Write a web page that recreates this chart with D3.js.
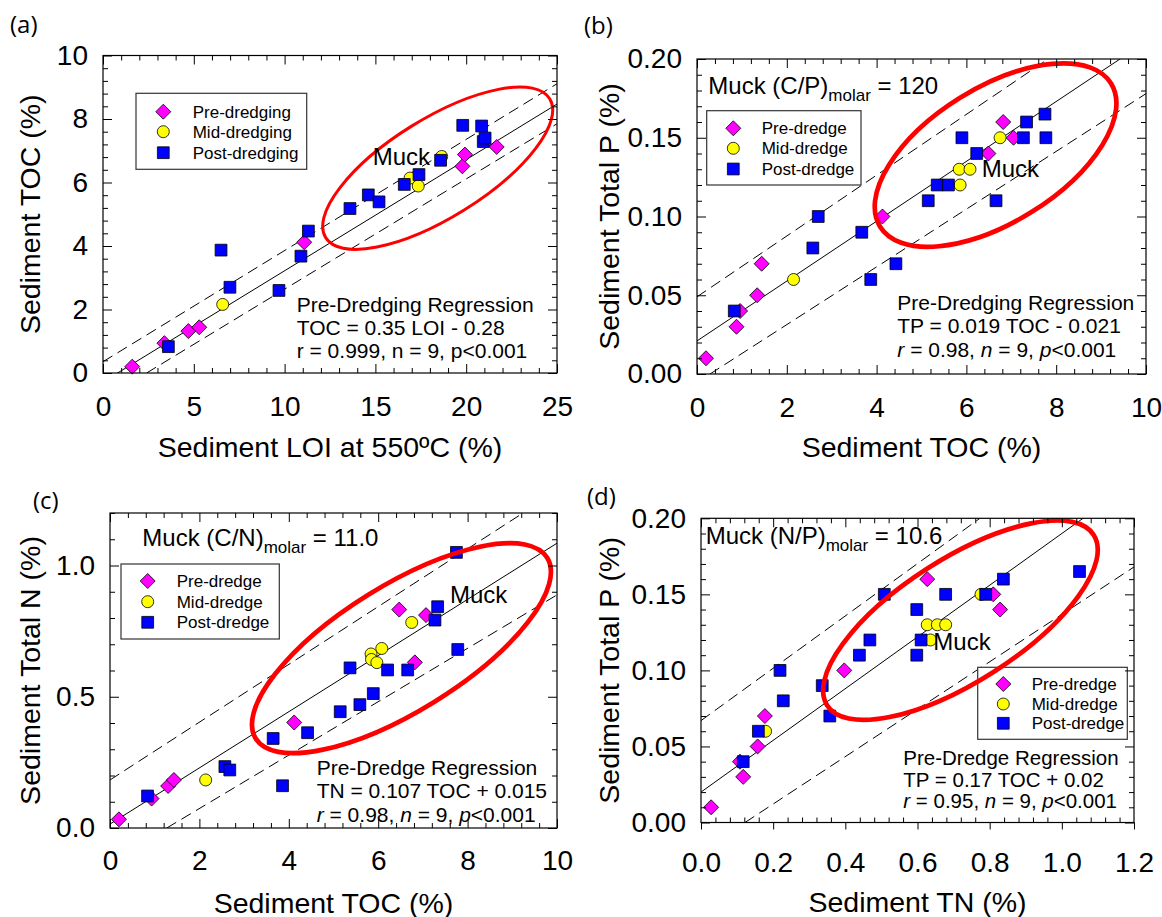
<!DOCTYPE html>
<html>
<head>
<meta charset="utf-8">
<script src="https://cdn.jsdelivr.net/npm/d3@7"></script>
<style>
  body { margin: 0; background: #fff; }
  svg { display: block; }
  text { font-family: "Liberation Sans", Arial, sans-serif; fill: #000; }
  text.tag { font-family: "Open Sans", "Noto Sans", sans-serif; }
</style>
</head>
<body>
<svg id="fig" width="1162" height="917"></svg>
<script>
// ---------------- data ----------------
// (a) sediment LOI at 550 °C (%) vs sediment TOC (%)
const aPre  = [[1.61,0.20],[3.38,0.94],[4.70,1.32],[5.30,1.44],[11.08,4.12],[19.79,6.51],[19.93,6.88],[21.68,7.12]];
const aMid  = [[6.59,2.16],[16.91,6.14],[17.36,5.89],[18.65,6.82]];
const aPost = [[3.60,0.83],[6.50,3.87],[6.99,2.70],[9.69,2.60],[10.90,3.68],[11.31,4.47],[13.60,5.18],[14.61,5.61],
               [15.20,5.39],[16.59,5.94],[17.40,6.25],[18.59,6.70],[19.81,7.80],[20.85,7.78],[20.94,7.29],[21.04,7.40]];
const aFit   = {slope: 0.35, intercept: -0.28};
const aUpper = [[0,0.355],[25,9.11]];
const aLower = [[2.4,0],[25,7.85]];
const aEllipse = {cx: 18.43, cy: 6.45};

// (b) sediment TOC (%) vs sediment total P (%)
const bPre  = [[0.20,0.010],[0.88,0.030],[0.96,0.040],[1.34,0.050],[1.44,0.070],[4.13,0.100],[6.49,0.140],[6.82,0.160],[7.05,0.150]];
const bMid  = [[2.15,0.060],[5.84,0.130],[6.08,0.130],[5.86,0.120],[6.75,0.150]];
const bPost = [[0.83,0.040],[2.70,0.100],[2.58,0.080],[3.67,0.090],[3.87,0.060],[4.43,0.070],[5.15,0.110],[5.35,0.120],
               [5.60,0.120],[5.90,0.150],[6.23,0.140],[6.66,0.110],[7.27,0.150],[7.34,0.160],[7.75,0.165],[7.77,0.150]];
const bFit   = {slope: 0.019, intercept: 0.021};
const bUpper = [[0,0.049],[7.82,0.200]];
const bLower = [[0.29,0],[10,0.178]];
const bEllipse = {cx: 6.65, cy: 0.139};

// (c) sediment TOC (%) vs sediment total N (%)
const cPre  = [[0.20,0.033],[0.93,0.112],[1.30,0.160],[1.43,0.183],[4.12,0.402],[6.47,0.832],[7.07,0.811],[6.82,0.631]];
const cMid  = [[2.14,0.183],[6.75,0.783],[6.08,0.684],[5.84,0.663],[5.85,0.642],[5.97,0.630]];
const cPost = [[0.84,0.122],[2.57,0.234],[2.68,0.221],[3.86,0.161],[3.65,0.341],[4.42,0.363],[5.15,0.443],[5.59,0.470],
               [5.89,0.512],[5.37,0.610],[6.21,0.602],[6.66,0.602],[7.27,0.792],[7.33,0.843],[7.78,0.680],[7.75,1.050]];
const cFit   = {slope: 0.107, intercept: 0.015};
const cUpper = [[0,0.183],[9.24,1.2]];
const cLower = [[1.27,0],[10,0.888]];
const cEllipse = {cx: 6.52, cy: 0.685};

// (d) sediment TN (%) vs sediment total P (%)
const dPre  = [[0.028,0.010],[0.108,0.040],[0.117,0.030],[0.157,0.050],[0.177,0.070],[0.397,0.100],[0.627,0.160],[0.810,0.150],[0.829,0.140]];
const dMid  = [[0.179,0.060],[0.627,0.130],[0.655,0.130],[0.678,0.130],[0.636,0.120],[0.776,0.150]];
const dPost = [[0.117,0.040],[0.159,0.060],[0.219,0.100],[0.228,0.080],[0.336,0.090],[0.357,0.070],[0.439,0.110],[0.468,0.120],
               [0.508,0.150],[0.598,0.140],[0.610,0.120],[0.598,0.110],[0.678,0.150],[0.789,0.150],[0.838,0.160],[1.049,0.165]];
const dFit   = {slope: 0.17, intercept: 0.02};
const dUpper = [[0,0.067],[0.773,0.200]];
const dLower = [[0.122,0],[1.2,0.168]];
const dEllipse = {cx: 0.719, cy: 0.133};

// tick labels
const aXTicks = [0,5,10,15,20,25],        aYTicks = [0,2,4,6,8,10];
const bXTicks = [0,2,4,6,8,10],           bYTicks = [0,0.05,0.10,0.15,0.20];
const cXTicks = [0,2,4,6,8,10],           cYTicks = [0,0.5,1.0];
const dXTicks = [0,0.2,0.4,0.6,0.8,1.0,1.2], dYTicks = [0,0.05,0.10,0.15,0.20];

// legend labels
const legendLong  = ["Pre-dredging","Mid-dredging","Post-dredging"];
const legendShort = ["Pre-dredge","Mid-dredge","Post-dredge"];

// regression notes
const aNote = [[["Pre-Dredging Regression"]],[["TOC = 0.35 LOI - 0.28"]],[["r = 0.999, n = 9, p<0.001"]]];
const bNote = [[["Pre-Dredging Regression"]],[["TP = 0.019 TOC - 0.021"]],
               [["r",1],[" = 0.98, "],["n",1],[" = 9, "],["p",1],["<0.001"]]];
const cNote = [[["Pre-Dredge Regression"]],[["TN = 0.107 TOC + 0.015"]],
               [["r",1],[" = 0.98, "],["n",1],[" = 9, "],["p",1],["<0.001"]]];
const dNote = [[["Pre-Dredge Regression"]],[["TP = 0.17 TOC + 0.02"]],
               [["r",1],[" = 0.95, "],["n",1],[" = 9, "],["p",1],["<0.001"]]];

// ---------------- layout ----------------
const panels = [
  { id:"a", tag:"(a)", tagPos:[10,33],
    frame:{left:103, top:55.5, right:557, bottom:373},
    xDomain:[0,25], yDomain:[0,10], xTicks:aXTicks, yTicks:aYTicks, xMinor:1, yMinor:0.4,
    xFmt:d3.format("d"), yFmt:d3.format("d"),
    xTitle:"Sediment LOI at 550ºC (%)", yTitle:"Sediment TOC (%)",
    xLabelBase:416, xTitleBase:457, yTitleBase:40,
    pre:aPre, mid:aMid, post:aPost, fit:aFit, upper:aUpper, lower:aLower,
    ellipse:aEllipse, ell:{rx:131.8, ry:49.5, rot:-31.8, w:3},
    legend:{labels:legendLong, box:[136,93.3,306.7,169.3], symX:163.3, textX:192.7, rows:[111.7,131.7,152.7]},
    muck:[372.7,165], note:aNote, noteX:296.7, noteRows:[312,335,358], noteSize:21, header:null },
  { id:"b", tag:"(b)", tagPos:[584,34],
    frame:{left:697, top:59, right:1146, bottom:374},
    xDomain:[0,10], yDomain:[0,0.2], xTicks:bXTicks, yTicks:bYTicks, xMinor:0.4, yMinor:0.01,
    xFmt:d3.format("d"), yFmt:d3.format(".2f"),
    xTitle:"Sediment TOC (%)", yTitle:"Sediment Total P (%)",
    xLabelBase:417, xTitleBase:457, yTitleBase:619,
    pre:bPre, mid:bMid, post:bPost, fit:bFit, upper:bUpper, lower:bLower,
    ellipse:bEllipse, ell:{rx:135.9, ry:67.4, rot:-31.8, w:4.7},
    legend:{labels:legendShort, box:[706.7,110.7,861,185], symX:733.3, textX:761.7, rows:[128.3,148.3,169]},
    muck:[981.7,177.3], note:bNote, noteX:897.3, noteRows:[310,333.3,356.7], noteSize:21,
    header:{x:708.3, y:93.5, main:"Muck (C/P)", sub:"molar", tail:" = 120"} },
  { id:"c", tag:"(c)", tagPos:[33,509],
    frame:{left:110, top:513, right:557, bottom:828},
    xDomain:[0,10], yDomain:[0,1.2], xTicks:cXTicks, yTicks:cYTicks, xMinor:0.4, yMinor:0.1,
    xFmt:d3.format("d"), yFmt:d3.format(".1f"),
    xTitle:"Sediment TOC (%)", yTitle:"Sediment Total N (%)",
    xLabelBase:870, xTitleBase:912.5, yTitleBase:40,
    pre:cPre, mid:cMid, post:cPost, fit:cFit, upper:cUpper, lower:cLower,
    ellipse:cEllipse, ell:{rx:171.5, ry:62.9, rot:-31.8, w:4.7},
    legend:{labels:legendShort, box:[121,564,279.3,639], symX:147.7, textX:176.7, rows:[581,601.7,622.3]},
    muck:[450,603.3], note:cNote, noteX:316.7, noteRows:[775,798.3,821.7], noteSize:21,
    header:{x:142.3, y:546, main:"Muck (C/N)", sub:"molar", tail:" = 11.0"} },
  { id:"d", tag:"(d)", tagPos:[587,505],
    frame:{left:701, top:518.3, right:1134, bottom:822.5},
    xDomain:[0,1.2], yDomain:[0,0.2], xTicks:dXTicks, yTicks:dYTicks, xMinor:0.04, yMinor:0.01,
    xFmt:d3.format(".1f"), yFmt:d3.format(".2f"), xMajorOut:true,
    xTitle:"Sediment TN (%)", yTitle:"Sediment Total P (%)",
    xLabelBase:871.5, xTitleBase:911.5, yTitleBase:618.5,
    pre:dPre, mid:dMid, post:dPost, fit:dFit, upper:dUpper, lower:dLower,
    ellipse:dEllipse, ell:{rx:158.2, ry:61.4, rot:-32.6, w:4.7},
    legend:{labels:legendShort, box:[977.7,667.3,1127.3,739.3], symX:1003.3, textX:1031.7, rows:[684,704,723.3]},
    muck:[933.3,650], note:dNote, noteX:903.3, noteRows:[765,786.7,808.3], noteSize:20.5,
    header:{x:705.7, y:544, main:"Muck (N/P)", sub:"molar", tail:" = 10.6"} }
];

const TICK_FONT = 28, TITLE_FONT = 28.5, MAJOR = 9, MINOR = 5;
const colors = {pre:"#ff00ff", mid:"#ffff00", post:"#0000ff"};

const svg = d3.select("#fig");
const defs = svg.append("defs");

// marker shapes centred on (0,0)
const shapes = {
  pre:  "M0,-7.5L7.5,0L0,7.5L-7.5,0Z",
  mid:  d3.symbol().type(d3.symbolCircle).size(Math.PI * 6 * 6)(),
  post: "M-5.9,-5.9H5.9V5.9H-5.9Z"
};

function minorValues(domain, step, majors) {
  const n = Math.round((domain[1] - domain[0]) / step);
  return d3.range(n + 1).map(i => +(domain[0] + i * step).toFixed(6))
           .filter(v => !majors.some(m => Math.abs(m - v) < 1e-9));
}

function styleAxis(sel, fontSize) {
  sel.select(".domain").remove();
  sel.selectAll("line").attr("stroke", "#000").attr("stroke-width", 1);
  sel.selectAll("text").attr("font-size", fontSize).attr("fill", "#000");
  sel.attr("font-family", null).attr("font-size", null);
}

function drawPanel(p) {
  const f = p.frame;
  const x = d3.scaleLinear().domain(p.xDomain).range([f.left, f.right]);
  const y = d3.scaleLinear().domain(p.yDomain).range([f.bottom, f.top]);
  const g = svg.append("g").attr("class", "panel-" + p.id);

  defs.append("clipPath").attr("id", "clip-" + p.id)
    .append("rect").attr("x", f.left).attr("y", f.top)
    .attr("width", f.right - f.left).attr("height", f.bottom - f.top);

  // regression line and its dashed bounds
  const line = d3.line().x(d => x(d[0])).y(d => y(d[1]));
  const lines = g.append("g").attr("clip-path", `url(#clip-${p.id})`).attr("fill", "none").attr("stroke", "#000");
  const fitPts = p.xDomain.map(v => [v, p.fit.slope * v + p.fit.intercept]);
  lines.append("path").attr("d", line(fitPts)).attr("stroke-width", 1);
  [p.upper, p.lower].forEach(seg =>
    lines.append("path").attr("d", line(seg)).attr("stroke-width", 1).attr("stroke-dasharray", "11,6"));

  // legend
  const L = p.legend;
  const lg = g.append("g");
  lg.append("rect").attr("x", L.box[0]).attr("y", L.box[1])
    .attr("width", L.box[2] - L.box[0]).attr("height", L.box[3] - L.box[1])
    .attr("fill", "#fff").attr("stroke", "#333").attr("stroke-width", 1.2);
  ["pre","mid","post"].forEach((k, i) => {
    lg.append("path").attr("d", shapes[k]).attr("transform", `translate(${L.symX},${L.rows[i]})`)
      .attr("fill", colors[k]).attr("stroke", "#000").attr("stroke-width", 0.8);
    lg.append("text").attr("x", L.textX).attr("y", L.rows[i]).attr("dy", "0.36em")
      .attr("font-size", 17).text(L.labels[i]);
  });

  // markers: pre-dredge diamonds, then mid-dredge circles, then post-dredge squares on top
  ["pre","mid","post"].forEach(k => {
    g.append("g").selectAll("path").data(p[k]).join("path")
      .attr("d", shapes[k])
      .attr("transform", d => `translate(${x(d[0])},${y(d[1])})`)
      .attr("fill", colors[k]).attr("stroke", "#000").attr("stroke-width", 0.8);
  });

  // muck ellipse
  const ex = x(p.ellipse.cx), ey = y(p.ellipse.cy);
  g.append("ellipse").attr("cx", ex).attr("cy", ey).attr("rx", p.ell.rx).attr("ry", p.ell.ry)
    .attr("transform", `rotate(${p.ell.rot},${ex},${ey})`)
    .attr("fill", "none").attr("stroke", "#ff0000").attr("stroke-width", p.ell.w);

  // axes: labelled bottom/left, bare top/right, ticks pointing inward
  const W = f.right - f.left, H = f.bottom - f.top;
  const xMinorVals = minorValues(p.xDomain, p.xMinor, p.xTicks);
  const yMinorVals = minorValues(p.yDomain, p.yMinor, p.yTicks);
  const labelSpacing = (base, off) => base - off - 0.71 * TICK_FONT;

  const xMajorSize = p.xMajorOut ? 7 : -MAJOR;
  const bottomPad = labelSpacing(p.xLabelBase, f.bottom) - Math.max(xMajorSize, 0);
  styleAxis(g.append("g").attr("transform", `translate(0,${f.bottom})`)
    .call(d3.axisBottom(x).tickValues(p.xTicks).tickFormat(p.xFmt).tickSize(xMajorSize).tickPadding(bottomPad)), TICK_FONT);
  styleAxis(g.append("g").attr("transform", `translate(0,${f.bottom})`)
    .call(d3.axisBottom(x).tickValues(xMinorVals).tickFormat("").tickSize(-MINOR)), TICK_FONT);
  styleAxis(g.append("g").attr("transform", `translate(0,${f.top})`)
    .call(d3.axisTop(x).tickValues(p.xTicks).tickFormat("").tickSize(-MAJOR)), TICK_FONT);
  styleAxis(g.append("g").attr("transform", `translate(0,${f.top})`)
    .call(d3.axisTop(x).tickValues(xMinorVals).tickFormat("").tickSize(-MINOR)), TICK_FONT);

  styleAxis(g.append("g").attr("transform", `translate(${f.left},0)`)
    .call(d3.axisLeft(y).tickValues(p.yTicks).tickFormat(p.yFmt).tickSize(-MAJOR).tickPadding(15)), TICK_FONT);
  styleAxis(g.append("g").attr("transform", `translate(${f.left},0)`)
    .call(d3.axisLeft(y).tickValues(yMinorVals).tickFormat("").tickSize(-MINOR)), TICK_FONT);
  styleAxis(g.append("g").attr("transform", `translate(${f.right},0)`)
    .call(d3.axisRight(y).tickValues(p.yTicks).tickFormat("").tickSize(-MAJOR)), TICK_FONT);
  styleAxis(g.append("g").attr("transform", `translate(${f.right},0)`)
    .call(d3.axisRight(y).tickValues(yMinorVals).tickFormat("").tickSize(-MINOR)), TICK_FONT);

  // frame
  g.append("rect").attr("x", f.left).attr("y", f.top).attr("width", W).attr("height", H)
    .attr("fill", "none").attr("stroke", "#000").attr("stroke-width", 1.2);

  // axis titles
  g.append("text").attr("x", (f.left + f.right) / 2).attr("y", p.xTitleBase)
    .attr("text-anchor", "middle").attr("font-size", TITLE_FONT).text(p.xTitle);
  g.append("text").attr("transform", `translate(${p.yTitleBase},${(f.top + f.bottom) / 2}) rotate(-90)`)
    .attr("text-anchor", "middle").attr("font-size", TITLE_FONT).text(p.yTitle);

  // panel tag
  g.append("text").attr("class", "tag").attr("x", p.tagPos[0]).attr("y", p.tagPos[1])
    .attr("font-size", 24).text(p.tag);

  // muck label
  g.append("text").attr("x", p.muck[0]).attr("y", p.muck[1]).attr("font-size", 24).text("Muck");

  // molar ratio header
  if (p.header) {
    const h = g.append("text").attr("x", p.header.x).attr("y", p.header.y).attr("font-size", 24);
    h.append("tspan").text(p.header.main);
    h.append("tspan").attr("font-size", 17).attr("dy", 7).text(p.header.sub);
    h.append("tspan").attr("dy", -7).text(p.header.tail);
  }

  // regression note
  p.note.forEach((parts, i) => {
    const t = g.append("text").attr("x", p.noteX).attr("y", p.noteRows[i]).attr("font-size", p.noteSize)
      .attr("xml:space", "preserve");
    parts.forEach(([s, it]) => t.append("tspan").attr("font-style", it ? "italic" : null).text(s));
  });
}

panels.forEach(drawPanel);
</script>
</body>
</html>
